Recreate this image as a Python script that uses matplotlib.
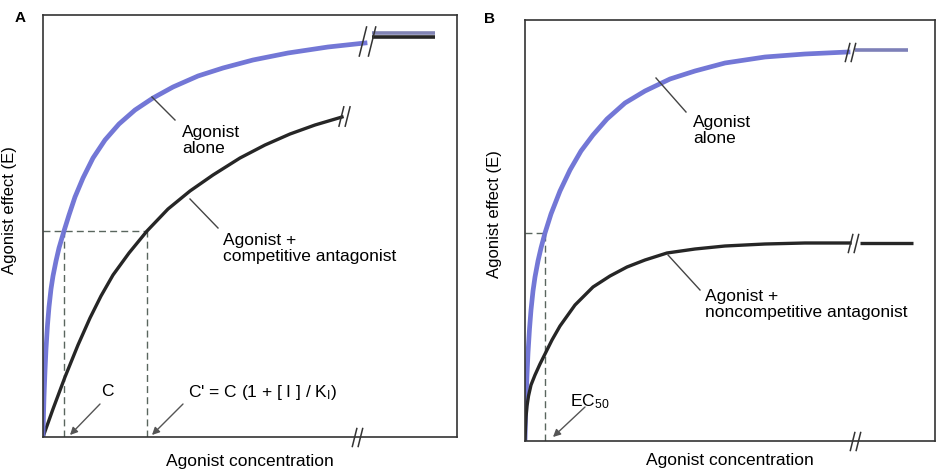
import matplotlib.pyplot as plt
from matplotlib.path import Path

plt.rcParams['font.family'] = ['Liberation Sans', 'DejaVu Sans']
plt.rcParams['mathtext.fontset'] = 'custom'
plt.rcParams['mathtext.rm'] = 'Liberation Sans'
plt.rcParams['mathtext.it'] = 'Liberation Sans:italic'

# Arbitrary units: x = agonist concentration, y = agonist effect (E)

# Panel A: agonist alone vs. agonist + competitive antagonist
a_alone_x = [0, 0.5, 1, 2, 3, 4.5, 6, 8, 10, 13, 16, 21, 26, 32, 40, 50, 62, 76,
             92, 110, 130, 155, 180, 210, 245, 285, 322]
a_alone_y = [0, 22, 40, 66, 88, 112, 130, 148, 161, 176, 189, 206, 222, 240, 259,
             279, 297, 313, 327, 339, 350, 361, 369, 377, 384, 390, 394]
a_comp_x = [0, 10, 22, 35, 47, 58, 70, 86, 104, 125, 147, 170, 197, 222, 247,
            272, 299]
a_comp_y = [0, 28, 60, 92, 119, 141, 162, 184, 206, 228, 246, 262, 279, 292, 303,
            312, 320]
a_tail_x = [329, 392]
a_tail_alone = [404, 404]
a_tail_comp = [400, 400]
a_half = 206
a_c = 21
a_c_prime = 104
a_axis_break = 314

# Panel B: agonist alone vs. agonist + noncompetitive antagonist
b_alone_x = [0, 0.5, 1, 2, 3, 4.5, 6, 8, 10, 13, 16, 20, 26, 35, 45, 56, 68, 82,
             100, 120, 145, 170, 200, 240, 280, 323]
b_alone_y = [0, 22, 40, 66, 88, 112, 131, 150, 164, 180, 193, 208, 227, 250, 271,
             290, 306, 322, 338, 350, 362, 370, 378, 384, 387, 389]
b_non_x = [0, 0.5, 1, 2, 3.5, 6, 10, 15, 20, 27, 35, 50, 68, 85, 102, 120, 142,
           170, 200, 240, 280, 325]
b_non_y = [0, 14, 24, 35, 45, 56, 66, 77, 87, 101, 115, 136, 154, 165, 174, 181,
           188, 192, 195, 197, 198, 198]
b_tail_alone_x = [330, 383]
b_tail_alone = [391, 391]
b_tail_non_x = [335, 388]
b_tail_non = [198, 198]
b_half = 208
b_ec50 = 20
b_axis_break = 330

BLUE = '#6b70d4'
BLACK = '#262626'
DASH = '#5a665e'
INK = '#333333'

# "//" break symbol used as a marker
SLASH = Path([(-0.55, -1), (-0.05, 1), (0.05, -1), (0.55, 1)],
             [Path.MOVETO, Path.LINETO, Path.MOVETO, Path.LINETO])


def break_mark(ax, x, y, size, color=INK):
    ax.plot([x], [y], marker=SLASH, ms=size, mec=color, mew=1.1,
            ls='none', clip_on=False, zorder=5)


def setup(ax, w, h):
    ax.set_xlim(0, w)
    ax.set_ylim(0, h)
    ax.set_xticks([])
    ax.set_yticks([])
    for s in ax.spines.values():
        s.set_linewidth(1.2)
        s.set_color(INK)
    ax.set_xlabel('Agonist concentration', fontsize=12.5)
    ax.set_ylabel('Agonist effect (E)', fontsize=12)
    ax.xaxis.label.set_va('center')


def leader(ax, x0, y0, x1, y1):
    ax.plot([x0, x1], [y0, y1], color='#444444', lw=1)


def arrow(ax, xy, xytext):
    ax.annotate('', xy=xy, xytext=xytext,
                arrowprops=dict(arrowstyle='-|>', color='#555555', lw=1,
                                mutation_scale=11, shrinkA=0, shrinkB=0))


fig = plt.figure(figsize=(9.36, 4.70), dpi=100)
dash = (0, (5, 3))

# ---- panel A ----
ax = fig.add_axes([43 / 936, 33 / 470, 414 / 936, 422 / 470])
setup(ax, 414, 422)
ax.xaxis.set_label_coords(0.5, -0.057)
ax.yaxis.set_label_coords(-0.063, 0.538)

ax.plot([0, a_c_prime], [a_half, a_half], color=DASH, lw=1, ls=dash)
ax.plot([a_c, a_c], [0, a_half], color=DASH, lw=1, ls=dash)
ax.plot([a_c_prime, a_c_prime], [0, a_half], color=DASH, lw=1, ls=dash)

ax.plot(a_comp_x, a_comp_y, color=BLACK, lw=2.4)
ax.plot(a_tail_x, a_tail_comp, color=BLACK, lw=2.6, solid_capstyle='butt')
ax.plot(a_alone_x, a_alone_y, color=BLUE, lw=3.4, alpha=0.95)
ax.plot(a_tail_x, a_tail_alone, color='#8184b4', lw=2.6, solid_capstyle='butt')

break_mark(ax, a_alone_x[-1] + 2, a_alone_y[-1] + 2, 22)
break_mark(ax, a_comp_x[-1] + 2, a_comp_y[-1] + 1, 15)
break_mark(ax, a_axis_break, 0, 14)

leader(ax, 109, 340, 132, 317)
ax.text(139, 312, 'Agonist\nalone', fontsize=12.5, va='top', ha='left',
        linespacing=1.1)
leader(ax, 147, 238, 175, 209)
ax.text(180, 204, 'Agonist +\ncompetitive antagonist', fontsize=12.5,
        va='top', ha='left', linespacing=1.1)

ax.text(64, 45, 'C', fontsize=12.5, ha='center', va='center')
arrow(ax, (27, 2), (57, 33))
ax.text(145, 45, "C' = C (1 + [ I ] / K$_{\\mathrm{I}}$)", fontsize=12.5,
        ha='left', va='center')
arrow(ax, (109, 2), (140, 33))

fig.text(20 / 936, 1 - 18 / 470, 'A', fontsize=11, fontweight='bold',
         ha='center', va='center')

# ---- panel B ----
ax = fig.add_axes([525 / 936, 29 / 470, 410 / 936, 421 / 470])
setup(ax, 410, 421)
ax.xaxis.set_label_coords(0.5, -0.047)
ax.yaxis.set_label_coords(-0.056, 0.54)

ax.plot([0, b_ec50], [b_half, b_half], color=DASH, lw=1, ls=dash)
ax.plot([b_ec50, b_ec50], [0, b_half], color=DASH, lw=1, ls=dash)

ax.plot(b_alone_x, b_alone_y, color=BLUE, lw=3.4, alpha=0.95)
ax.plot(b_tail_alone_x, b_tail_alone, color='#7d80b8', lw=2.6,
        solid_capstyle='butt')
ax.plot(b_non_x, b_non_y, color=BLACK, lw=2.4)
ax.plot(b_tail_non_x, b_tail_non, color=BLACK, lw=2.4, solid_capstyle='butt')

break_mark(ax, b_alone_x[-1] + 2, b_alone_y[-1], 14)
break_mark(ax, b_non_x[-1] + 3, b_non_y[-1], 14)
break_mark(ax, b_axis_break, 0, 14)

leader(ax, 131, 363, 161, 329)
ax.text(168, 326, 'Agonist\nalone', fontsize=12.5, va='top', ha='left',
        linespacing=1.1)
leader(ax, 143, 186, 175, 151)
ax.text(180, 152, 'Agonist +\nnoncompetitive antagonist', fontsize=12.5,
        va='top', ha='left', linespacing=1.1)

ax.text(45, 39, 'EC$_{50}$', fontsize=12.5, ha='left', va='center')
arrow(ax, (28, 4), (60, 34))

fig.text(489 / 936, 1 - 19 / 470, 'B', fontsize=11, fontweight='bold',
         ha='center', va='center')

fig.savefig('out.png', dpi=100, facecolor='white')
